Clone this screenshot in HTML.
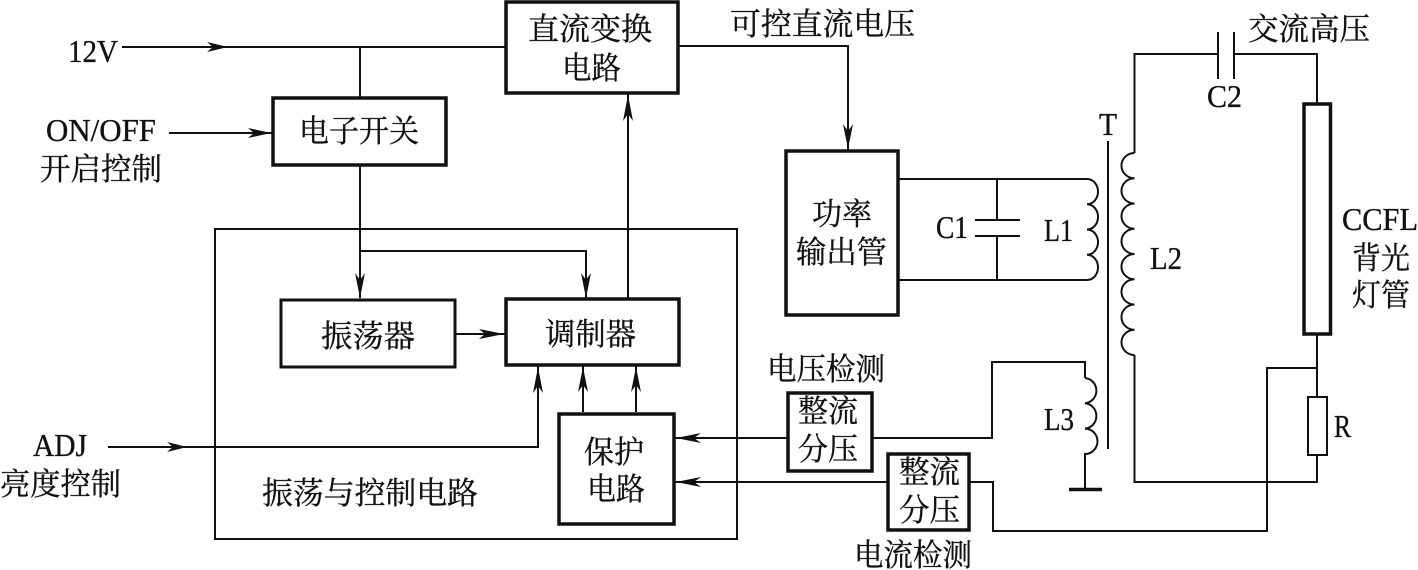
<!DOCTYPE html>
<html>
<head>
<meta charset="utf-8">
<style>
html,body{margin:0;padding:0;background:#fff;width:1418px;height:570px;overflow:hidden}
svg{display:block}
text{font-family:"Liberation Serif","Noto Serif CJK SC",serif;fill:#111;stroke:#111;stroke-width:.35px}
.c{font-size:31px}
.l{font-size:32px}
</style>
</head>
<body>
<svg width="1418" height="570" viewBox="0 0 1418 570" xmlns="http://www.w3.org/2000/svg">
<rect width="1418" height="570" fill="#fff"/>
<g fill="none" stroke="#111" stroke-width="2">
  <!-- outer frame -->
  <rect x="215" y="229" width="522" height="310" stroke-width="2"/>
  <!-- left wiring -->
  <path d="M122 47H505M360 47V97M169 133H272M360 166V298M360 251H586V298M628 298V94M455 334H505"/>
  <path d="M108 447H538V366M583 412V366M636 412V366"/>
  <path d="M674 438H787M674 482H887"/>
  <!-- DC voltage -->
  <path d="M679 46H848V150"/>
  <!-- primary -->
  <path d="M898 179H1087M898 280H1087M997 179V220M997 236V280M975 220H1020M975 236H1020"/>
  <path d="M1087 179A11 12.6 0 0 1 1087 204.25A11 12.6 0 0 1 1087 229.5A11 12.6 0 0 1 1087 254.75A11 12.6 0 0 1 1087 280"/>
  <!-- core -->
  <path d="M1108 141V449"/>
  <!-- secondary -->
  <path d="M1134.5 153A13 12.6 0 0 0 1134.5 178.25A13 12.6 0 0 0 1134.5 203.5A13 12.6 0 0 0 1134.5 228.75A13 12.6 0 0 0 1134.5 254A13 12.6 0 0 0 1134.5 279.25A13 12.6 0 0 0 1134.5 304.5A13 12.6 0 0 0 1134.5 329.75A13 12.6 0 0 0 1134.5 355"/>
  <path d="M1134.5 153V54H1218M1218 32V79M1234 32V79M1234 54H1317V103"/>
  <path d="M1317 334V397M1317 455V482H1134.5V355"/>
  <path d="M1317 368H1267V531H993V482H969"/>
  <!-- L3 -->
  <path d="M873 438H992V362H1085V378"/>
  <path d="M1085 378A12.5 12.7 0 0 1 1085 403.3A12.5 12.7 0 0 1 1085 428.6A12.5 12.7 0 0 1 1085 454V489"/>
  <path d="M1069 489.5H1102" stroke-width="3.5"/>
  <!-- boxes -->
  <g stroke-width="3.5" fill="#fff">
    <rect x="506" y="2" width="172" height="91"/>
    <rect x="273" y="98" width="173" height="67"/>
    <rect x="281" y="300" width="174" height="67" stroke-width="3"/>
    <rect x="506" y="299" width="173" height="66"/>
    <rect x="559" y="414" width="115" height="110"/>
    <rect x="786" y="151" width="112" height="164"/>
    <rect x="788" y="393" width="84" height="78"/>
    <rect x="888" y="454" width="81" height="76"/>
    <rect x="1304" y="104" width="26.5" height="230"/>
    <rect x="1308" y="397" width="19" height="58" stroke-width="2"/>
  </g>
</g>
<!-- arrowheads -->
<g fill="#111" stroke="none">
  <polygon points="228,47 207,42 213,47 207,52"/>
  <polygon points="271,133 248,128 254,133 248,138"/>
  <polygon points="187,447 167,442 173,447 167,452"/>
  <polygon points="504,334 479,329 485,334 479,339"/>
  <polygon points="360,298 355,273 360,280 365,273"/>
  <polygon points="586,298 581,273 586,280 591,273"/>
  <polygon points="628,95 623,121 628,114 633,121"/>
  <polygon points="848,149 843,124 848,131 853,124"/>
  <polygon points="538,367 533,393 538,386 543,393"/>
  <polygon points="583,367 578,392 583,385 588,392"/>
  <polygon points="636,367 631,392 636,385 641,392"/>
  <polygon points="676,438 701,433 694,438 701,443"/>
  <polygon points="676,482 701,477 694,482 701,487"/>
</g>
<!-- labels -->
<g>
  <text class="l" x="68" y="62" textLength="50" lengthAdjust="spacingAndGlyphs">12V</text>
  <text class="l" x="46" y="141" textLength="110" lengthAdjust="spacingAndGlyphs">ON/OFF</text>
  <text class="c" x="40" y="180" textLength="122" lengthAdjust="spacingAndGlyphs">开启控制</text>
  <text class="c" x="528" y="40" textLength="124" lengthAdjust="spacingAndGlyphs">直流变换</text>
  <text class="c" x="562" y="79" textLength="59" lengthAdjust="spacingAndGlyphs">电路</text>
  <text class="c" x="299" y="142" textLength="120" lengthAdjust="spacingAndGlyphs">电子开关</text>
  <text class="c" x="730" y="35" textLength="185" lengthAdjust="spacingAndGlyphs">可控直流电压</text>
  <text class="c" x="1248" y="40" textLength="122" lengthAdjust="spacingAndGlyphs">交流高压</text>
  <text class="l" x="1207" y="107" textLength="35" lengthAdjust="spacingAndGlyphs">C2</text>
  <text class="l" x="1099" y="135" textLength="18" lengthAdjust="spacingAndGlyphs">T</text>
  <text class="c" x="812" y="225" textLength="60" lengthAdjust="spacingAndGlyphs">功率</text>
  <text class="c" x="796" y="263" textLength="91" lengthAdjust="spacingAndGlyphs">输出管</text>
  <text class="l" x="936" y="238" textLength="32" lengthAdjust="spacingAndGlyphs">C1</text>
  <text class="l" x="1044" y="241" textLength="29" lengthAdjust="spacingAndGlyphs">L1</text>
  <text class="l" x="1150" y="269" textLength="32" lengthAdjust="spacingAndGlyphs">L2</text>
  <text class="l" x="1342" y="230" textLength="76" lengthAdjust="spacingAndGlyphs">CCFL</text>
  <text class="c" x="1352" y="269" textLength="58" lengthAdjust="spacingAndGlyphs">背光</text>
  <text class="c" x="1352" y="306" textLength="58" lengthAdjust="spacingAndGlyphs">灯管</text>
  <text class="c" x="767" y="380" textLength="118" lengthAdjust="spacingAndGlyphs">电压检测</text>
  <text class="c" x="798" y="422" textLength="60" lengthAdjust="spacingAndGlyphs">整流</text>
  <text class="c" x="798" y="460" textLength="60" lengthAdjust="spacingAndGlyphs">分压</text>
  <text class="c" x="899" y="483" textLength="61" lengthAdjust="spacingAndGlyphs">整流</text>
  <text class="c" x="899" y="521" textLength="61" lengthAdjust="spacingAndGlyphs">分压</text>
  <text class="c" x="854" y="566" textLength="118" lengthAdjust="spacingAndGlyphs">电流检测</text>
  <text class="l" x="1044" y="430" textLength="30" lengthAdjust="spacingAndGlyphs">L3</text>
  <text class="l" x="1334" y="437" textLength="17" lengthAdjust="spacingAndGlyphs">R</text>
  <text class="l" x="33" y="456" textLength="54" lengthAdjust="spacingAndGlyphs">ADJ</text>
  <text class="c" x="0" y="495" textLength="121" lengthAdjust="spacingAndGlyphs">亮度控制</text>
  <text class="c" x="321" y="347" textLength="94" lengthAdjust="spacingAndGlyphs">振荡器</text>
  <text class="c" x="545" y="345" textLength="91" lengthAdjust="spacingAndGlyphs">调制器</text>
  <text class="c" x="584" y="463" textLength="60" lengthAdjust="spacingAndGlyphs">保护</text>
  <text class="c" x="587" y="500" textLength="58" lengthAdjust="spacingAndGlyphs">电路</text>
  <text class="c" x="262" y="504" textLength="216" lengthAdjust="spacingAndGlyphs">振荡与控制电路</text>
</g>
</svg>
</body>
</html>
